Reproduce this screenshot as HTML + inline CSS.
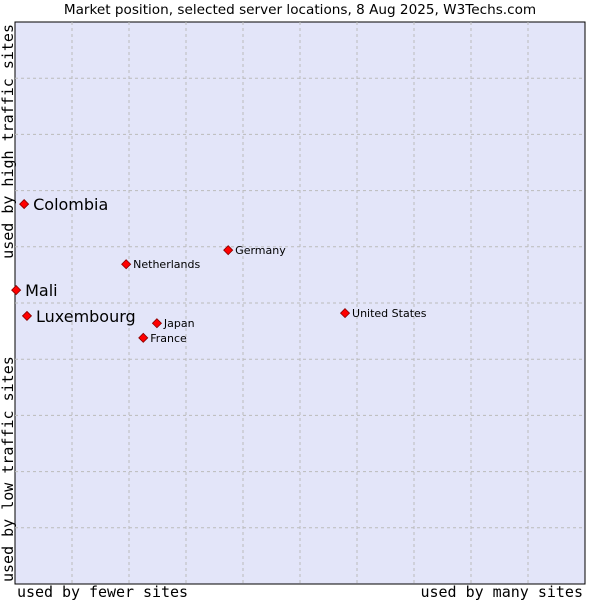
<!DOCTYPE html>
<html><head><meta charset="utf-8"><style>
body{margin:0;background:#fff;}
svg text{font-family:"DejaVu Sans","Liberation Sans",sans-serif;}
.m{font-family:'DejaVu Sans Mono','Liberation Mono',monospace;}
</style></head><body>
<svg width="600" height="600" xmlns="http://www.w3.org/2000/svg">
<text x="300" y="14" text-anchor="middle" font-size="13.6" fill="#000">Market position, selected server locations, 8 Aug 2025, W3Techs.com</text>
<rect x="15" y="22" width="570" height="562" fill="#e3e5f9" stroke="#000" stroke-width="1"/>
<g id="grid"></g>
<g id="marks"></g>
<text x="17" y="597" font-size="15" class="m" textLength="171">used by fewer sites</text>
<text x="583" y="597" text-anchor="end" font-size="15" class="m">used by many sites</text>
<text transform="translate(13,582) rotate(-90)" font-size="15" class="m">used by low traffic sites</text>
<text transform="translate(13,24) rotate(-90)" text-anchor="end" font-size="15" class="m">used by high traffic sites</text>
</svg>
<script>
const names=["Colombia","Mali","Luxembourg","Netherlands","Germany","United States","Japan","France"];
const xs=[1.6,0.2,2.1,19.5,37.4,57.9,24.9,22.5];
const ys=[67.6,52.3,47.7,56.9,59.4,48.2,46.4,43.8];
const big=[true,true,true,false,false,false,false,false];
const NS="http://www.w3.org/2000/svg";
const X=v=>15+v*5.7, Y=v=>584-v*5.62;
const grid=document.getElementById('grid'), marks=document.getElementById('marks');
for(let i=1;i<10;i++){
  const v=document.createElementNS(NS,'line');
  v.setAttribute('x1',X(i*10));v.setAttribute('x2',X(i*10));v.setAttribute('y1',22);v.setAttribute('y2',584);
  v.setAttribute('stroke','#bbb');v.setAttribute('stroke-dasharray','3,3');
  
  
  grid.appendChild(v);
  const h=document.createElementNS(NS,'line');
  h.setAttribute('y1',Y(i*10));h.setAttribute('y2',Y(i*10));h.setAttribute('x1',15);h.setAttribute('x2',585);
  h.setAttribute('stroke','#bbb');h.setAttribute('stroke-dasharray','3,3');
  
  
  grid.appendChild(h);
}
names.forEach((n,i)=>{
  const x=X(xs[i]),y=Y(ys[i]);
  const p=document.createElementNS(NS,'polygon');
  p.setAttribute('points',`${x},${y-4.5} ${x+4.5},${y} ${x},${y+4.5} ${x-4.5},${y}`);
  p.setAttribute('fill','#f00');p.setAttribute('stroke','#800');p.setAttribute('stroke-width','0.8');
  
  
  marks.appendChild(p);
  const t=document.createElementNS(NS,'text');
  t.setAttribute('x',x+(big[i]?9:7));t.setAttribute('y',y+(big[i]?6:4));
  t.setAttribute('font-size',big[i]?16:11);
  t.textContent=n;
  
  
  marks.appendChild(t);
});
</script>
</body></html>
